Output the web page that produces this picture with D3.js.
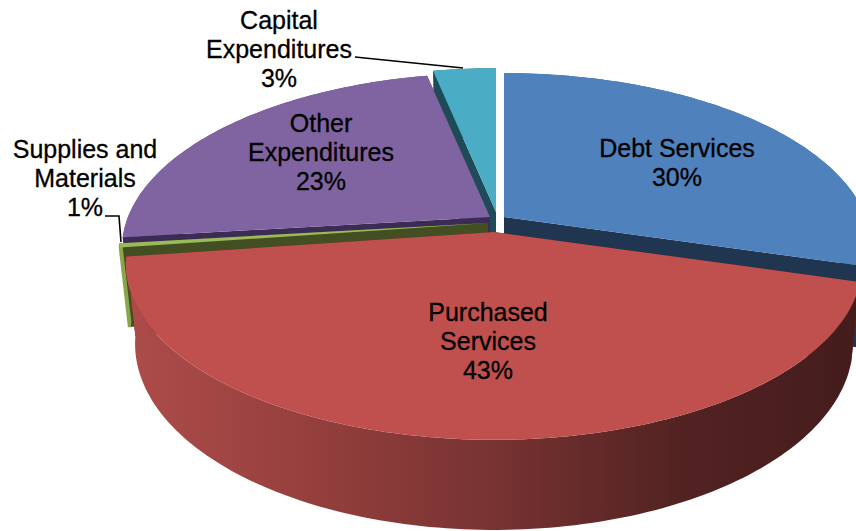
<!DOCTYPE html>
<html>
<head>
<meta charset="utf-8">
<script src="https://cdn.jsdelivr.net/npm/d3@7"></script>
<style>
  html, body { margin: 0; padding: 0; background: #fff; overflow: hidden; }
  text { font-family: "Liberation Sans", Arial, sans-serif; font-size: 25px; fill: #000; stroke: #000; stroke-width: 0.3px; }
</style>
</head>
<body>
<div id="chart"></div>
<script>
// values (the printed labels are rounded)
const categories = ["Debt Services", "Purchased Services", "Supplies and Materials", "Other Expenditures", "Capital Expenditures"];
const values = [29.5, 43.25, 0.4, 23.57, 3.28];
const labelLines = [
  ["Debt Services", "30%"],
  ["Purchased", "Services", "43%"],
  ["Supplies and", "Materials", "1%"],
  ["Other", "Expenditures", "23%"],
  ["Capital", "Expenditures", "3%"]
];

/********************* Layout and colours *********************/
const width = 856, height = 531;
const topColors = ["#4f81bd", "#c0504d", "#9bbb59", "#8064a2", "#4bacc6"];
const cutColors = ["#1f3550", "#5a2422", "#434f23", "#3c2c55", "#1f4b58"];
const rimColors = ["#3f6797", "url(#rimRed)", "#8aa64d", "#5f4a7a", "#387f93"];
const rimStroke = [0, 0, 3, 0, 0]; // the supplies wall is only a sliver
const apexes = [[504, 217], [494, 232], [488, 223], [490, 217], [496, 212]]; // exploded slice centres
const labelAnchors = [[677, 157], [488, 321], [85, 158], [321, 132], [279, 29]];
const lineHeight = 28.8;
const paintOrder = [4, 0, 3, 2, 1]; // back to front

// Perspective of the pie disk
const radiusX = 362, radiusY = 170, persp = 0.1818, depth = 78, floorScale = 0.975;

function project(angle, r, lower, apex) {
  const X = r * Math.sin(angle), Y = r * Math.cos(angle);
  const w = 1 + persp * Y;
  const s = lower ? floorScale : 1;
  return [
    apex[0] + (X * radiusX / w) * s,
    apex[1] - (Y * radiusY / w) * s + (lower ? depth / w : 0)
  ];
}

const svg = d3.select("#chart").append("svg")
  .attr("width", width)
  .attr("height", height)
  .attr("viewBox", "0 0 " + width + " " + height);

// Banded shading of the big red wall
const rimStops = [[0, "#ad4c49"], [0.25, "#953f3d"], [0.5, "#773332"], [0.75, "#532322"], [1, "#441c1c"]];
const grad = svg.append("defs").append("linearGradient")
  .attr("id", "rimRed")
  .attr("gradientUnits", "userSpaceOnUse")
  .attr("x1", 130).attr("x2", 856).attr("y1", 0).attr("y2", 0);
grad.selectAll("stop").data(rimStops).enter().append("stop")
  .attr("offset", (d) => d[0])
  .attr("stop-color", (d) => d[1]);

const pie = d3.pie().sort(null).value((d) => d)(values);
const line = d3.line().curve(d3.curveLinearClosed);

function arcAngles(a0, a1) {
  const n = Math.max(2, Math.ceil((a1 - a0) / 0.02));
  return d3.range(n + 1).map((i) => a0 + (a1 - a0) * i / n);
}

const slices = svg.append("g");

paintOrder.forEach((i) => {
  const d = pie[i], apex = apexes[i];
  const g = slices.append("g").attr("class", "slice").attr("id", "slice" + i);
  const angles = arcAngles(d.startAngle, d.endAngle);
  const isBack = Math.cos((d.startAngle + d.endAngle) / 2) > 0;

  const drawRim = () => {
    g.append("path")
      .attr("d", line(
        angles.map((a) => project(a, 1, false, apex))
          .concat(angles.slice().reverse().map((a) => project(a, 1, true, apex)))
      ))
      .attr("fill", rimColors[i])
      .attr("stroke", rimStroke[i] ? rimColors[i] : "none")
      .attr("stroke-width", rimStroke[i]);
  };

  // back slices hide their outer wall behind the cuts
  if (isBack) drawRim();

  [d.startAngle, d.endAngle].forEach((a) => {
    g.append("path")
      .attr("d", line([
        project(a, 0, false, apex),
        project(a, 1, false, apex),
        project(a, 1, true, apex),
        project(a, 0, true, apex)
      ]))
      .attr("fill", cutColors[i]);
  });

  if (!isBack) drawRim();

  // top face
  g.append("path")
    .attr("d", line([project(0, 0, false, apex)].concat(angles.map((a) => project(a, 1, false, apex)))))
    .attr("fill", topColors[i]);
});

/********************* Leader lines and labels *********************/
const leaders = [
  [[355, 57], [463, 68]],
  [[105, 216], [119, 216], [121, 242]]
];
svg.append("g").selectAll("path").data(leaders).enter().append("path")
  .attr("d", d3.line())
  .attr("fill", "none")
  .attr("stroke", "#000")
  .attr("stroke-width", 1.6);

const labels = svg.append("g").selectAll("text").data(categories).enter().append("text")
  .attr("text-anchor", "middle")
  .attr("x", (d, i) => labelAnchors[i][0])
  .attr("y", (d, i) => labelAnchors[i][1]);

labels.selectAll("tspan")
  .data((d, i) => labelLines[i].map((t, k) => ({ t, k, i })))
  .enter().append("tspan")
  .attr("x", (d) => labelAnchors[d.i][0])
  .attr("y", (d) => labelAnchors[d.i][1] + d.k * lineHeight)
  .text((d) => d.t);
</script>
</body>
</html>
